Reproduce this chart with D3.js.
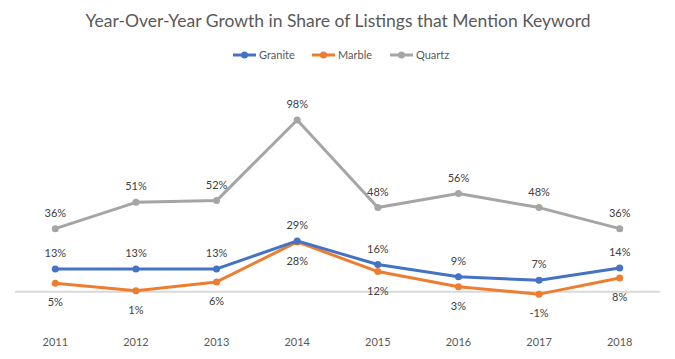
<!DOCTYPE html>
<html><head><meta charset="utf-8">
<script src="https://cdn.jsdelivr.net/npm/d3@7"></script>
<style>body{margin:0;background:#fff}svg{display:block}text{font-family:Lato,"Open Sans",sans-serif}</style>
</head><body><svg id="c" width="675" height="359"></svg>
<script>
const years = ["2011","2012","2013","2014","2015","2016","2017","2018"];
const granite = [13, 13, 13, 29, 15.5, 8.5, 6.5, 13.5];
const marble = [4.8, 0.5, 5.6, 28.4, 11.5, 2.8, -1.4, 7.8];
const quartz = [36, 51, 52, 98, 48, 56, 48, 36];
const seriesNames = ["Granite", "Marble", "Quartz"];
const colors = ["#4472C4", "#ED7D31", "#A5A5A5"];
const labelPos = ["above", "below", "above"];

const svg = d3.select("#c");
const x = d3.scaleBand().domain(years).range([15, 660]);
const y = d3.scaleLinear().domain([0, 98]).range([291.7, 120]);
const cx = d => x(d) + x.bandwidth() / 2;
const fmt = v => Math.round(v) + "%";

svg.append("text").attr("x", 338).attr("y", 27).attr("text-anchor", "middle")
  .attr("font-size", 17.5).attr("fill", "#595959").text("Year-Over-Year Growth in Share of Listings that Mention Keyword");

svg.append("line").attr("x1", 15).attr("x2", 660).attr("y1", y(0)).attr("y2", y(0))
  .attr("stroke", "#D9D9D9").attr("stroke-width", 2);

const xAxis = d3.axisBottom(x).tickSize(0).tickPadding(0);
const gx = svg.append("g").attr("transform", "translate(0,338)").call(xAxis);
gx.select(".domain").remove();
gx.selectAll("text").attr("font-size", 11).attr("fill", "#595959").attr("font-family", "Lato,sans-serif").attr("dy", "0.71em");

const data = [granite, marble, quartz];
const line = d3.line().x((d, i) => cx(years[i])).y(d => y(d));
[2, 1, 0].forEach(s => {
  const g = svg.append("g");
  g.append("path").attr("d", line(data[s])).attr("fill", "none")
    .attr("stroke", colors[s]).attr("stroke-width", 3).attr("stroke-linejoin", "round");
  g.selectAll("circle").data(data[s]).join("circle")
    .attr("cx", (d, i) => cx(years[i])).attr("cy", d => y(d)).attr("r", 3.5).attr("fill", colors[s]);
});
[0, 1, 2].forEach(s => {
  svg.append("g").selectAll("text").data(data[s]).join("text")
    .attr("x", (d, i) => cx(years[i]))
    .attr("y", d => labelPos[s] === "above" ? y(d) - 12 : y(d) + 23)
    .attr("text-anchor", "middle").attr("font-size", 11).attr("fill", "#404040")
    .text(fmt);
});

const legX = [233, 312, 390];
seriesNames.forEach((n, s) => {
  const g = svg.append("g").attr("transform", `translate(${legX[s]},55)`);
  g.append("line").attr("x1", 0).attr("x2", 23).attr("stroke", colors[s]).attr("stroke-width", 3);
  g.append("circle").attr("cx", 11.5).attr("r", 3.5).attr("fill", colors[s]);
  g.append("text").attr("x", 26).attr("y", 4).attr("font-size", 11).attr("fill", "#595959").text(n);
});
</script></body></html>
